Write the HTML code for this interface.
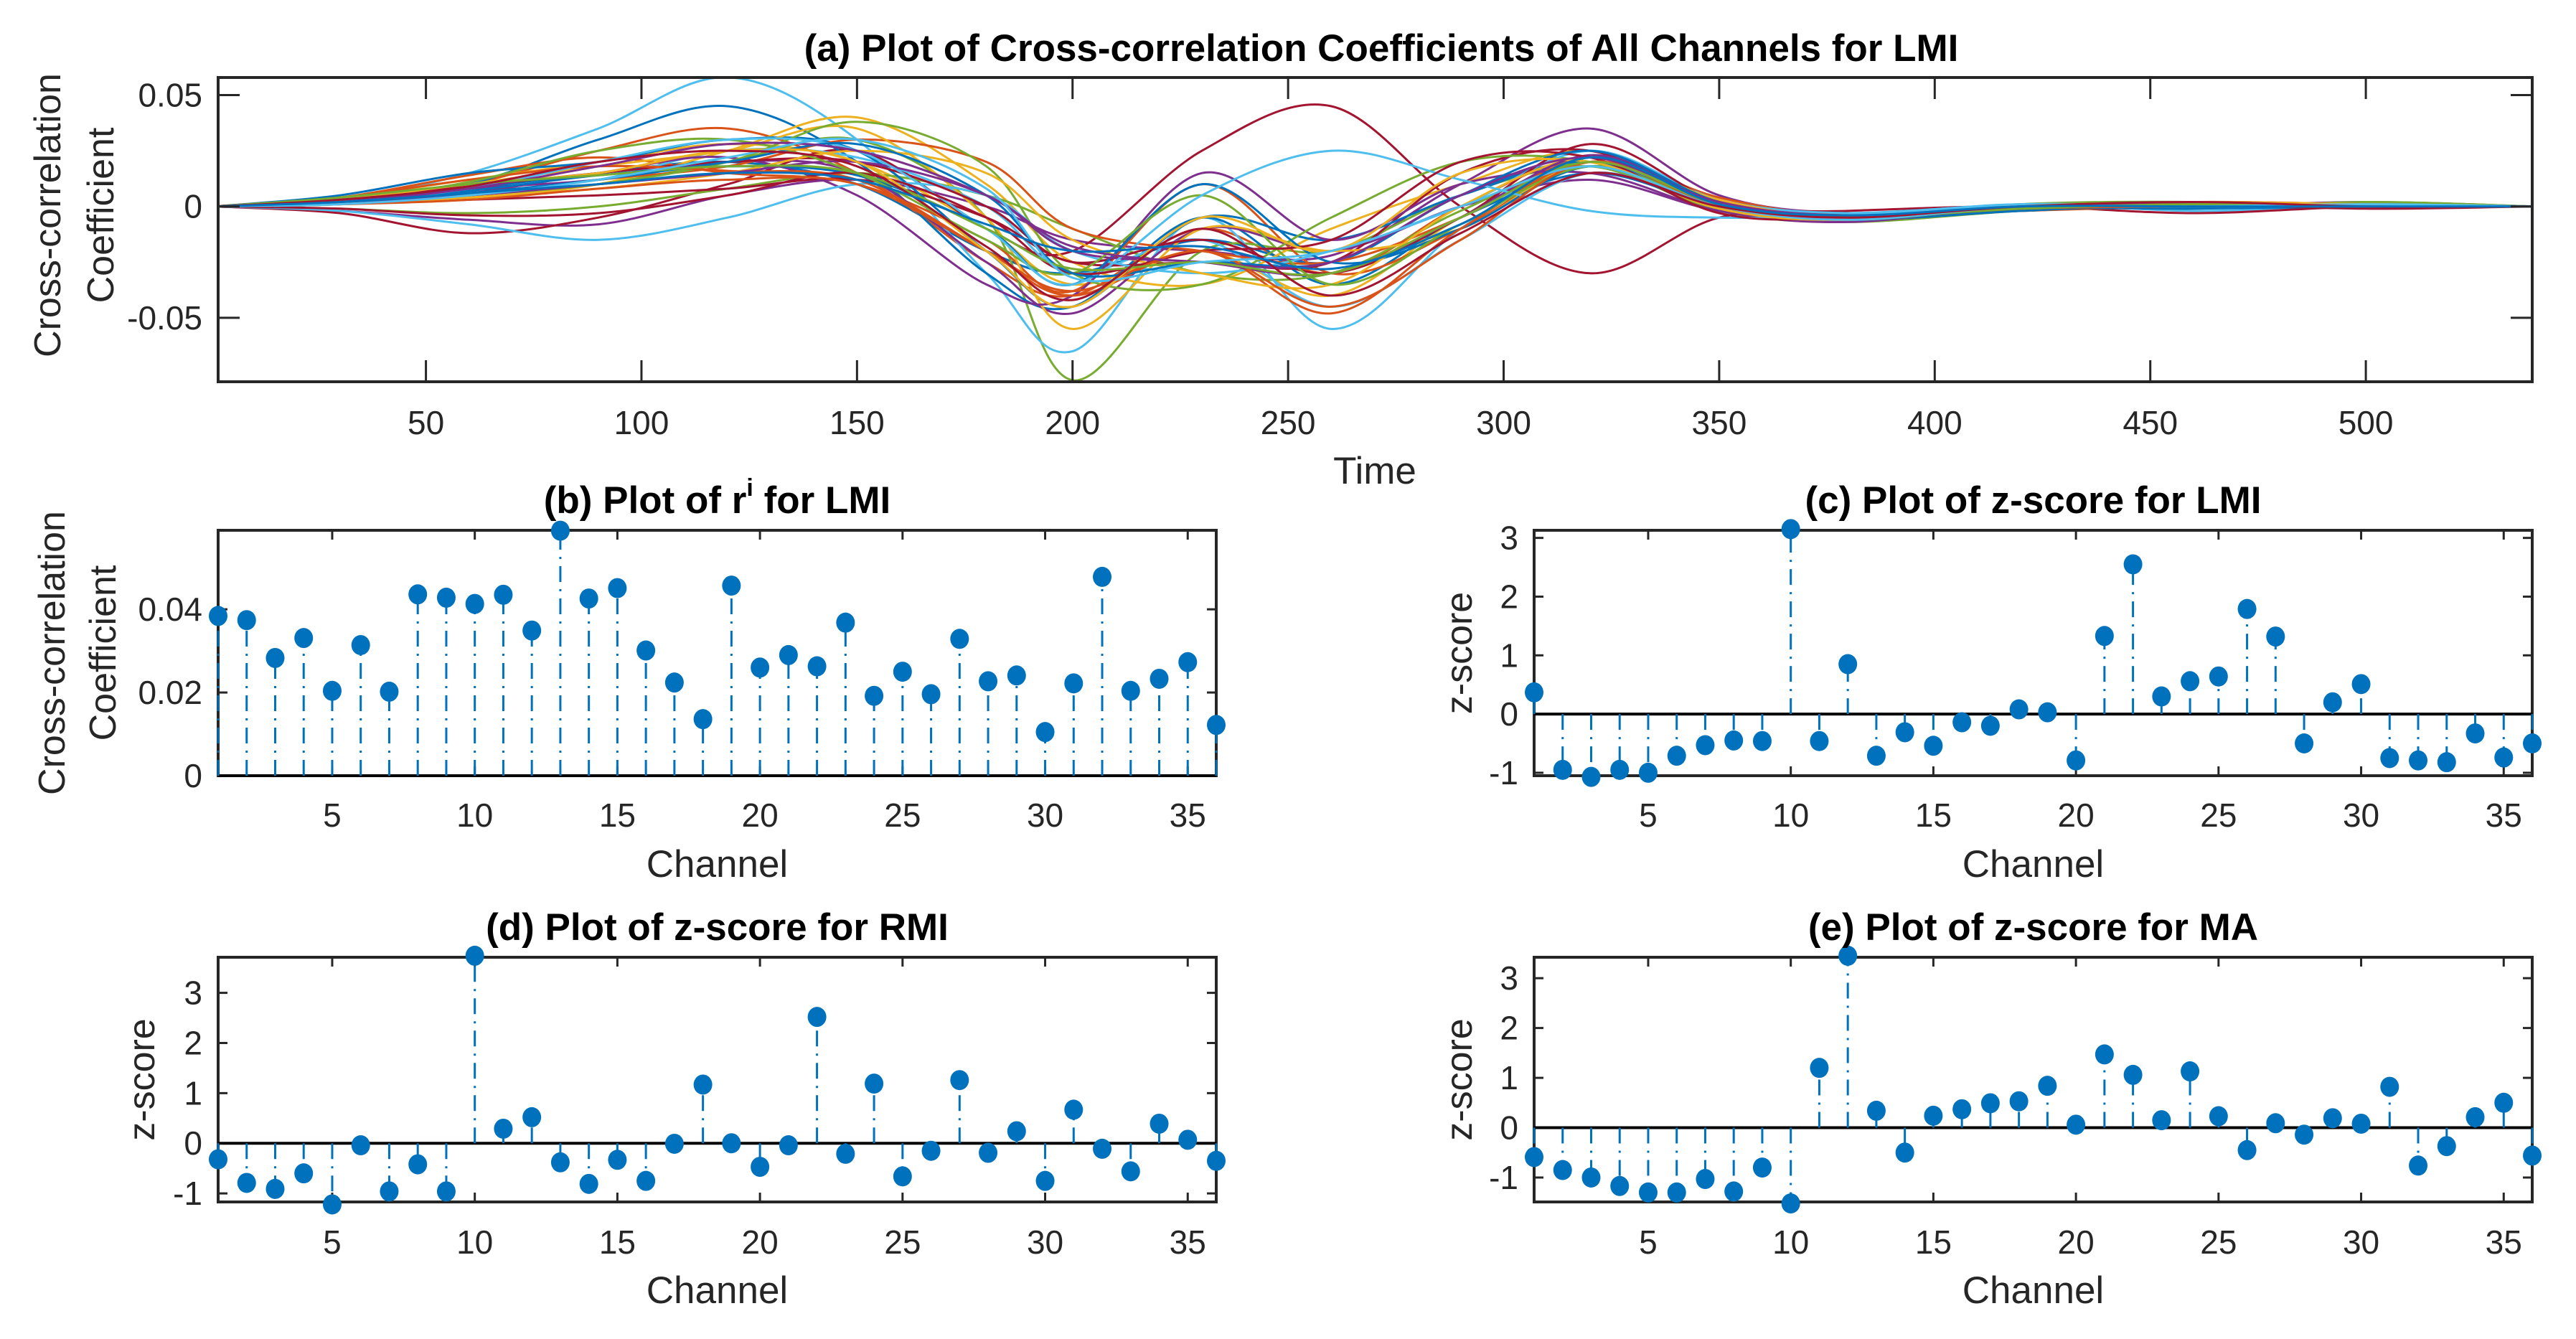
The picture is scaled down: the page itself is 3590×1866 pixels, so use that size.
<!DOCTYPE html>
<html><head><meta charset="utf-8"><title>Cross-correlation plots</title>
<style>
html,body{margin:0;padding:0;background:#fff;}
svg{display:block;font-family:"Liberation Sans",Arial,sans-serif;}
</style></head>
<body>
<svg id="fig" width="3590" height="1866" viewBox="0 0 3590 1866" xmlns="http://www.w3.org/2000/svg">
<rect x="0" y="0" width="3590" height="1866" fill="#fff"/>
</svg>
<script>
// ---------- Data ----------
const timeKnots = [1,30,60,90,120,150,180,200,230,260,290,320,350,380,420,460,500,539];
// curve values in units of 0.001 at timeKnots, one row per channel
const curvesMilli = [
[0,2,8,15,20,10,-20,-30,-15,-25,5,20,0,-4,-2,1,0,0],
[0,3,10,25,35,15,-25,-40,-10,-30,0,22,2,-5,-1,2,1,0],
[0,4,12,20,28,20,-10,-35,-20,-40,-5,18,-1,-6,0,2,0,0],
[0,-2,-6,-8,5,12,0,-15,-20,-22,10,35,5,-3,0,0,2,0],
[0,1,5,10,20,30,-5,-78,-20,-20,5,18,-2,-7,-2,0,1,0],
[0,3,15,35,58,30,-30,-65,-5,-55,-10,22,0,-4,1,-2,0,0],
[0,-3,-12,-5,10,25,-10,-20,25,45,0,-30,-5,-2,0,-3,0,0],
[0,2,10,30,45,20,-30,-45,-5,-35,-5,15,0,-6,-1,1,1,0],
[0,4,14,22,15,10,-15,-38,10,-30,-10,20,1,-5,-2,0,0,0],
[0,1,4,10,25,40,10,-25,-35,-10,10,25,3,-5,-1,1,1,0],
[0,3,8,12,20,15,-25,-48,-10,-20,0,12,-2,-6,0,2,0,0],
[0,-1,-3,0,8,15,5,-10,-30,-30,-2,20,2,-5,0,-1,2,0],
[0,2,6,12,25,22,0,-30,-15,-45,-15,15,0,-3,1,2,0,0],
[0,1,3,5,8,12,-5,-25,-25,-25,15,25,0,-5,0,0,0,0],
[0,5,15,20,30,25,-20,-45,-5,-15,5,20,-1,-6,-2,1,0,0],
[0,2,5,12,18,30,20,-10,-20,-25,-5,22,4,-4,0,2,1,0],
[0,3,10,18,25,35,-5,-55,-10,-20,-10,20,0,-5,-1,0,0,0],
[0,2,6,15,22,5,-35,-40,15,-15,10,15,-2,-7,0,0,0,0],
[0,1,5,10,20,38,18,-30,-35,-5,20,20,0,-5,1,2,0,0],
[0,-2,-8,-15,-5,10,5,-20,-30,-20,0,25,3,-3,0,0,1,0],
[0,3,9,15,20,20,0,-25,-15,-30,-5,28,2,-5,0,1,0,0],
[0,2,7,14,18,14,-10,-35,10,-25,-10,18,0,-6,-1,-1,0,0],
[0,4,12,18,16,12,-20,-40,-20,-48,-10,20,0,-4,0,2,1,0],
[0,1,4,8,15,25,15,-15,-30,-35,0,22,3,-5,0,0,0,0],
[0,2,5,10,15,20,5,-20,-25,-30,-5,23,2,-5,-1,1,0,0],
[0,3,11,25,30,15,-15,-30,5,-35,-8,18,0,-6,0,2,0,0],
[0,2,8,20,30,25,-10,-35,5,25,12,-2,-5,-4,1,0,0,0],
[0,-1,-4,-3,5,15,-5,-30,-20,-15,20,22,-3,-5,0,1,-1,0],
[0,2,6,12,20,28,5,-30,-25,-25,5,25,2,-5,0,0,0,0],
[0,1,3,8,12,10,-20,-38,-20,-45,-15,20,0,-5,-1,0,0,0],
[0,3,10,15,25,20,-20,-45,-5,-20,15,20,-1,-6,0,2,1,0],
[0,2,8,18,28,25,5,-18,-25,-25,5,22,2,-4,0,1,0,0],
[0,4,10,14,18,15,-10,-28,-25,-30,-5,20,1,-5,-1,1,0,0],
[0,1,5,12,22,30,8,-32,-25,-20,0,18,0,-6,0,0,1,0],
[0,3,9,20,25,18,-18,-42,-10,-40,-12,15,0,-5,0,2,0,0],
[0,2,6,10,15,12,-8,-20,-18,-28,-8,22,1,-4,0,0,0,0]
];
const channels = [1,2,3,4,5,6,7,8,9,10,11,12,13,14,15,16,17,18,19,20,21,22,23,24,25,26,27,28,29,30,31,32,33,34,35,36];
const rLMI = [0.0384,0.0374,0.0283,0.0331,0.0204,0.0314,0.0202,0.0436,0.0428,0.0413,0.0435,0.0349,0.0589,0.0426,0.0451,0.0301,0.0224,0.0136,0.0457,0.0260,0.0290,0.0263,0.0368,0.0192,0.0250,0.0196,0.0329,0.0227,0.0241,0.0105,0.0222,0.0478,0.0204,0.0233,0.0273,0.0122];
const zLMI = [0.37,-0.95,-1.07,-0.95,-1.0,-0.71,-0.53,-0.45,-0.46,3.15,-0.46,0.85,-0.71,-0.31,-0.54,-0.14,-0.20,0.08,0.03,-0.79,1.33,2.55,0.30,0.56,0.64,1.79,1.32,-0.50,0.20,0.51,-0.75,-0.79,-0.82,-0.33,-0.74,-0.50];
const zRMI = [-0.32,-0.79,-0.91,-0.60,-1.22,-0.04,-0.96,-0.42,-0.96,3.74,0.29,0.52,-0.38,-0.81,-0.33,-0.75,-0.01,1.17,0.0,-0.47,-0.04,2.52,-0.21,1.19,-0.66,-0.15,1.26,-0.19,0.24,-0.75,0.67,-0.11,-0.56,0.39,0.07,-0.35];
const zMA = [-0.59,-0.85,-1.0,-1.17,-1.30,-1.30,-1.03,-1.28,-0.80,-1.52,1.20,3.45,0.34,-0.50,0.24,0.37,0.49,0.53,0.84,0.06,1.47,1.06,0.15,1.13,0.23,-0.45,0.09,-0.14,0.19,0.08,0.82,-0.76,-0.37,0.21,0.50,-0.56];
const timeTicks = [50,100,150,200,250,300,350,400,450,500];
const ccTicks = [-0.05,0,0.05];
const ccTickLabels = ["-0.05","0","0.05"];
const rTicks = [0,0.02,0.04];
const rTickLabels = ["0","0.02","0.04"];
const chTicks = [5,10,15,20,25,30,35];
const zTicks = [-1,0,1,2,3];
const lineColors = ["#0072BD","#D95319","#EDB120","#7E2F8E","#77AC30","#4DBEEE","#A2142F"];

// ---------- Helpers ----------
const NS = "http://www.w3.org/2000/svg";
const svg = document.getElementById("fig");
function mk(tag, attrs, parent){
  const e = document.createElementNS(NS, tag);
  for (const k in attrs) e.setAttribute(k, attrs[k]);
  (parent||svg).appendChild(e);
  return e;
}
function scale(d0,d1,r0,r1){ return v => r0 + (v-d0)/(d1-d0)*(r1-r0); }
const AX = "#262626";

function axesFrame(g, P, xs, ys, xticks, xlabels, yticks, ylabels, tlen){
  xticks.forEach((t,i)=>{
    const x = xs(t);
    const tb = mk("line",{x1:x,y1:P.B,x2:x,y2:P.B-tlen,stroke:AX,"stroke-width":3},g);
    
    
    const tt = mk("line",{x1:x,y1:P.T,x2:x,y2:P.T+tlen,stroke:AX,"stroke-width":3},g);
    
    
    const lb = mk("text",{x:x,y:P.xtickY,"text-anchor":"middle","font-size":46,fill:AX},g);
    lb.textContent = xlabels[i];
    
    
  });
  yticks.forEach((t,i)=>{
    const y = ys(t);
    const tl = mk("line",{x1:P.L,y1:y,x2:P.L+tlen,y2:y,stroke:AX,"stroke-width":3},g);
    
    
    const tr = mk("line",{x1:P.R,y1:y,x2:P.R-tlen,y2:y,stroke:AX,"stroke-width":3},g);
    
    
    const lb = mk("text",{x:P.L-22,y:y+16,"text-anchor":"end","font-size":46,fill:AX},g);
    lb.textContent = ylabels[i];
    
    
  });
  const box = mk("rect",{x:P.L,y:P.T,width:P.R-P.L,height:P.B-P.T,fill:"none",stroke:AX,"stroke-width":4},g);
  
  
}

function title(g, x, y, parts){
  const t = mk("text",{x:x,y:y,"text-anchor":"middle","font-size":53,"font-weight":"bold",fill:"#000"},g);
  
  
  parts.forEach(p=>{
    const s = mk("tspan",p.sup?{"font-size":34,dy:-24}:(p.after?{dy:24}:{}),t);
    s.textContent = p.text;
  });
  return t;
}
function xlabel(g, x, y, text){
  const t = mk("text",{x:x,y:y,"text-anchor":"middle","font-size":53,fill:AX},g);
  t.textContent = text;
  
  
}
function ylabel(g, x, y, text){
  const t = mk("text",{x:x,y:y,"text-anchor":"middle","font-size":52,fill:AX,transform:`rotate(-90 ${x} ${y})`},g);
  t.textContent = text;
  
  
}

// ---------- Panel (a) ----------
(function(){
  const P = {L:304,R:3529,T:108,B:532,xtickY:605};
  const xs = scale(1.8,538.6,P.L,P.R);
  const ys = scale(-0.0787,0.0579,P.B,P.T);
  const g = mk("g",{});
  
  
  const cp = mk("clipPath",{id:"clipA"},g);
  mk("rect",{x:P.L,y:P.T-6,width:P.R-P.L,height:P.B-P.T+6},cp);
  const lg = mk("g",{"clip-path":"url(#clipA)"},g);
  curvesMilli.forEach((row,ci)=>{
    const pts = row.map((v,i)=>[xs(timeKnots[i]), ys(v/1000)]);
    let d = `M${pts[0][0].toFixed(1)},${pts[0][1].toFixed(1)}`;
    for (let i=0;i<pts.length-1;i++){
      const p0 = pts[Math.max(i-1,0)], p1=pts[i], p2=pts[i+1], p3=pts[Math.min(i+2,pts.length-1)];
      const c1=[p1[0]+(p2[0]-p0[0])/6, p1[1]+(p2[1]-p0[1])/6];
      const c2=[p2[0]-(p3[0]-p1[0])/6, p2[1]-(p3[1]-p1[1])/6];
      d += ` C${c1[0].toFixed(1)},${c1[1].toFixed(1)} ${c2[0].toFixed(1)},${c2[1].toFixed(1)} ${p2[0].toFixed(1)},${p2[1].toFixed(1)}`;
    }
    const path = mk("path",{d:d,fill:"none",stroke:lineColors[ci%7],"stroke-width":3},lg);
    
    
  });
  axesFrame(g,P,xs,ys,timeTicks,timeTicks.map(String),ccTicks,ccTickLabels,30);
  title(g,1925,85,[{text:"(a) Plot of Cross-correlation Coefficients of All Channels for LMI"}]);
  xlabel(g,1916,674,"Time");
  ylabel(g,84,300,"Cross-correlation");
  ylabel(g,158,300,"Coefficient");
})();

// ---------- Stem panels ----------
function stemPanel(name, P, ylim, vals, yticks, ylabelsTxt, titleParts, titleY, xlabY, ylabTexts){
  const xs = scale(1,36,P.L,P.R);
  const ys = scale(ylim[0],ylim[1],P.B,P.T);
  const g = mk("g",{});
  
  
  axesFrame(g,P,xs,ys,chTicks,chTicks.map(String),yticks,ylabelsTxt,13);
  const y0 = ys(0);
  const base = mk("line",{x1:P.L,y1:y0,x2:P.R,y2:y0,stroke:"#000","stroke-width":4},g);
  
  
  vals.forEach((v,i)=>{
    const x = xs(channels[i]), y = ys(v);
    const st = mk("line",{x1:x,y1:y0,x2:x,y2:y,stroke:"#0072BD","stroke-width":3,"stroke-dasharray":"22,10,3,10"},g);
    
    
  });
  vals.forEach((v,i)=>{
    const c = mk("ellipse",{cx:xs(channels[i]),cy:ys(v),rx:13,ry:14,fill:"#0072BD"},g);
    
    
  });
  title(g,(P.L+P.R)/2,titleY,titleParts);
  xlabel(g,(P.L+P.R)/2,xlabY,"Channel");
  ylabTexts.forEach(l=>ylabel(g,l.x,(P.T+P.B)/2,l.t));
}
stemPanel("panel-b-r-lmi",{L:304,R:1695,T:739,B:1081,xtickY:1152},[0,0.059],rLMI,rTicks,rTickLabels,
  [{text:"(b) Plot of r"},{text:"i",sup:true},{text:" for LMI",after:true}],715,1222,
  [{x:90,t:"Cross-correlation"},{x:161,t:"Coefficient"}]);
stemPanel("panel-c-z-lmi",{L:2138,R:3529,T:739,B:1081,xtickY:1152},[-1.05,3.13],zLMI,zTicks,zTicks.map(String),
  [{text:"(c) Plot of z-score for LMI"}],715,1222,[{x:2051,t:"z-score"}]);
stemPanel("panel-d-z-rmi",{L:304,R:1695,T:1334,B:1675,xtickY:1747},[-1.17,3.71],zRMI,zTicks,zTicks.map(String),
  [{text:"(d) Plot of z-score for RMI"}],1310,1816,[{x:215,t:"z-score"}]);
stemPanel("panel-e-z-ma",{L:2138,R:3529,T:1334,B:1675,xtickY:1747},[-1.49,3.42],zMA,zTicks,zTicks.map(String),
  [{text:"(e) Plot of z-score for MA"}],1310,1816,[{x:2051,t:"z-score"}]);
</script>
</body></html>
